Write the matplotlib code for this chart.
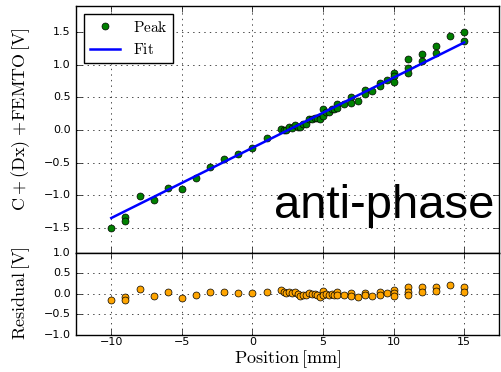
import numpy as np
import matplotlib
matplotlib.use("Agg")
import matplotlib.pyplot as plt

plt.style.use('classic')
plt.rcParams['mathtext.fontset'] = 'cm'

# positions [mm] and peak values [V]
pos = [-10, -9, -9, -8, -7, -6, -5, -4, -3, -2, -1, 0, 1,
       2.0, 2.2, 2.4, 2.6, 2.8, 3.0, 3.2, 3.4, 3.6, 3.8, 4.0, 4.2, 4.4, 4.6, 4.8,
       5.0, 5.0, 5.2, 5.4, 5.6, 5.8, 6.0, 6.0,
       6.5, 7.0, 7.0, 7.5, 8.0, 8.0, 8.5, 9.0, 9.0, 9.5,
       10, 10, 10, 11, 11, 11, 12, 12, 13, 13, 14, 15, 15]
peak = [-1.51, -1.33, -1.39, -1.02, -1.08, -0.89, -0.91, -0.73, -0.57, -0.45, -0.37, -0.27, -0.13,
        0.02, 0.00, 0.00, 0.04, 0.03, 0.08, 0.05, 0.04, 0.09, 0.09, 0.16, 0.16, 0.18, 0.19, 0.17,
        0.32, 0.22, 0.28, 0.28, 0.32, 0.32, 0.40, 0.33,
        0.39, 0.50, 0.41, 0.45, 0.61, 0.55, 0.59, 0.72, 0.67, 0.77,
        0.88, 0.82, 0.74, 1.08, 0.95, 0.87, 1.17, 1.05, 1.29, 1.18, 1.44, 1.50, 1.37]

# fit line
fit_slope = 0.1076
fit_offset = -0.274

pos = np.array(pos)
peak = np.array(peak)
resid = peak - (fit_slope * pos + fit_offset)

fig = plt.figure(figsize=(5.02, 3.72), dpi=100, facecolor='white')
ax1 = fig.add_axes([0.1514, 0.321, 0.995 - 0.1514, 0.984 - 0.321])
ax2 = fig.add_axes([0.1514, 0.1008, 0.995 - 0.1514, 0.321 - 0.1008], sharex=ax1)

ax1.plot(pos, peak, 'o', color='green', mec='black', ms=5, label=r'$\mathrm{Peak}$', zorder=3)
xs = np.array([pos.min(), pos.max()])
ax1.plot(xs, fit_slope * xs + fit_offset, '-', color='blue', lw=1.8, label=r'$\mathrm{Fit}$', zorder=4)
ax1.set_ylim(-1.88, 1.9)
ax1.set_yticks([-1.5, -1.0, -0.5, 0.0, 0.5, 1.0, 1.5])
ax1.grid(True)
ax1.set_ylabel(r'$\mathrm{C + (Dx)}\ {+}\mathrm{FEMTO}\,[\mathrm{V}]$', fontsize=13)
ax1.yaxis.set_label_coords(-0.104, 0.54)
ax1.legend(loc='upper left', numpoints=1, fontsize=11, borderaxespad=0.5)
ax1.text(0.988, 0.142, 'anti-phase', transform=ax1.transAxes, ha='right', va='baseline',
         fontsize=34, family='Liberation Sans')
plt.setp(ax1.get_xticklabels(), visible=False)

ax2.plot(pos, resid, 'o', color='orange', mec='black', ms=5, zorder=3)
ax2.set_ylim(-1, 1)
ax2.set_yticks([-1.0, -0.5, 0.0, 0.5, 1.0])
ax2.set_xlim(-12.5, 17.5)
ax2.grid(True)
ax2.set_ylabel(r'$\mathrm{Residual}\,[\mathrm{V}]$', fontsize=13)
ax2.yaxis.set_label_coords(-0.104, 0.5)
ax2.set_xlabel(r'$\mathrm{Position}\,[\mathrm{mm}]$', fontsize=13, labelpad=1)

for a in (ax1, ax2):
    a.tick_params(labelsize=8)
ax2.tick_params(axis='x', pad=2)

fig.savefig('out.png', dpi=100, facecolor='white')
